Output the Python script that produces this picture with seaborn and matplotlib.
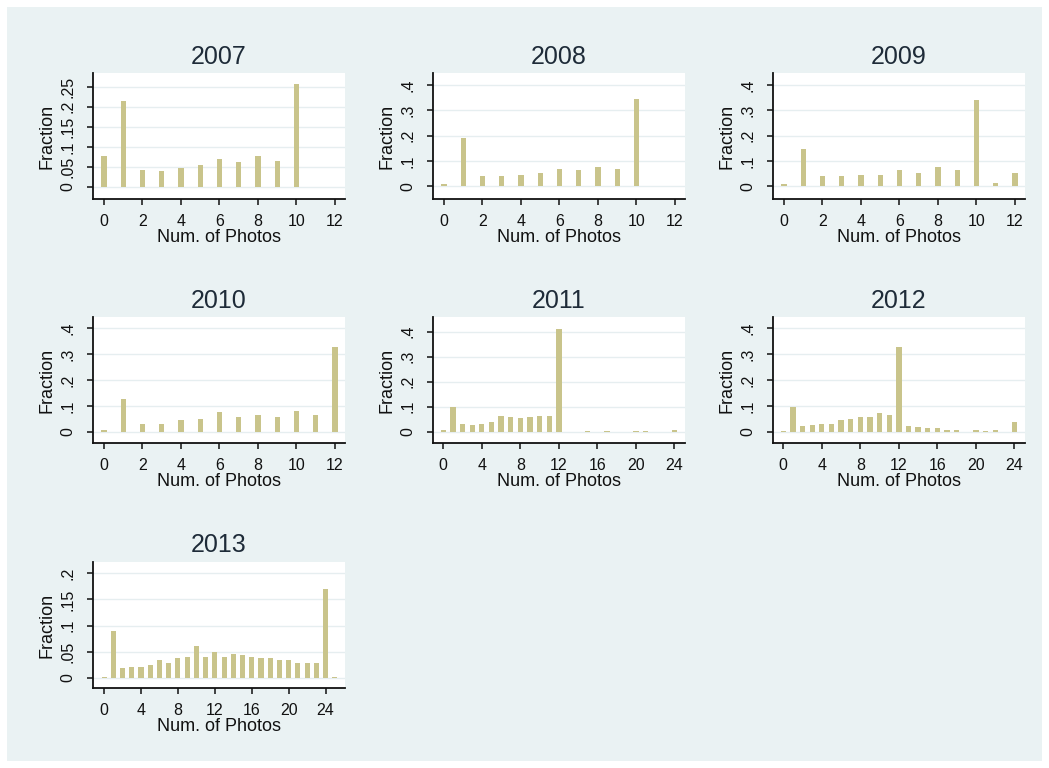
import matplotlib
matplotlib.use("Agg")
import matplotlib.pyplot as plt
from matplotlib.patches import Rectangle
from matplotlib.ticker import FixedLocator, FuncFormatter
import pandas as pd
import seaborn as sns

# Share of listings by number of photos, one histogram per year
photos_2007 = [0, 1, 2, 3, 4, 5, 6, 7, 8, 9, 10]
frac_2007 = [0.078, 0.213, 0.042, 0.040, 0.047, 0.054, 0.070, 0.062, 0.078, 0.065, 0.257]

photos_2008 = [0, 1, 2, 3, 4, 5, 6, 7, 8, 9, 10, 11, 12]
frac_2008 = [0.009, 0.190, 0.039, 0.039, 0.045, 0.051, 0.070, 0.065, 0.077, 0.070, 0.345, 0.002, 0.002]

photos_2009 = [0, 1, 2, 3, 4, 5, 6, 7, 8, 9, 10, 11, 12]
frac_2009 = [0.008, 0.146, 0.039, 0.039, 0.045, 0.045, 0.064, 0.051, 0.075, 0.064, 0.339, 0.013, 0.052]

photos_2010 = [0, 1, 2, 3, 4, 5, 6, 7, 8, 9, 10, 11, 12]
frac_2010 = [0.006, 0.127, 0.032, 0.032, 0.045, 0.051, 0.075, 0.058, 0.064, 0.058, 0.081, 0.064, 0.327]

photos_2011 = [0, 1, 2, 3, 4, 5, 6, 7, 8, 9, 10, 11, 12, 15, 17, 20, 21, 24]
frac_2011 = [0.005, 0.100, 0.032, 0.025, 0.032, 0.038, 0.064, 0.058, 0.055, 0.060, 0.063, 0.063,
             0.410, 0.004, 0.004, 0.004, 0.004, 0.005]

photos_2012 = [0, 1, 2, 3, 4, 5, 6, 7, 8, 9, 10, 11, 12, 13, 14, 15, 16, 17, 18, 20, 21, 22, 24]
frac_2012 = [0.005, 0.096, 0.022, 0.026, 0.031, 0.032, 0.045, 0.051, 0.056, 0.056, 0.073, 0.064,
             0.327, 0.022, 0.019, 0.013, 0.013, 0.006, 0.006, 0.008, 0.005, 0.006, 0.038]

photos_2013 = [0, 1, 2, 3, 4, 5, 6, 7, 8, 9, 10, 11, 12, 13, 14, 15, 16, 17, 18, 19, 20, 21, 22, 23, 24, 25]
frac_2013 = [0.002, 0.089, 0.018, 0.020, 0.021, 0.024, 0.034, 0.028, 0.037, 0.040, 0.061, 0.040, 0.050,
             0.039, 0.045, 0.043, 0.040, 0.037, 0.037, 0.034, 0.034, 0.028, 0.028, 0.028, 0.171, 0.002]

years = ["2007", "2008", "2009", "2010", "2011", "2012", "2013"]
photos = [photos_2007, photos_2008, photos_2009, photos_2010, photos_2011, photos_2012, photos_2013]
fractions = [frac_2007, frac_2008, frac_2009, frac_2010, frac_2011, frac_2012, frac_2013]

yticks = [
    [0, 0.05, 0.10, 0.15, 0.20, 0.25],
    [0, 0.1, 0.2, 0.3, 0.4],
    [0, 0.1, 0.2, 0.3, 0.4],
    [0, 0.1, 0.2, 0.3, 0.4],
    [0, 0.1, 0.2, 0.3, 0.4],
    [0, 0.1, 0.2, 0.3, 0.4],
    [0, 0.05, 0.10, 0.15, 0.20],
]
xticks_12 = [0, 2, 4, 6, 8, 10, 12]
xticks_24 = [0, 4, 8, 12, 16, 20, 24]

# axis extents for each panel
ylims = [(-0.030, 0.284), (-0.050, 0.447), (-0.050, 0.447), (-0.043, 0.443),
         (-0.045, 0.458), (-0.043, 0.443), (-0.020, 0.222)]
xlims = [(-0.57, 12.52), (-0.57, 12.52), (-0.57, 12.52), (-0.57, 12.52),
         (-1.07, 25.1), (-1.07, 25.1), (-1.2, 26.1)]

sns.set_style("ticks")
plt.rcParams["font.family"] = ["Liberation Sans", "DejaVu Sans"]

W, H = 1049, 768
fig = plt.figure(figsize=(W / 100, H / 100), dpi=100, facecolor="white")
fig.patches.append(Rectangle((7 / W, 7 / H), (W - 14) / W, (H - 14) / H,
                             transform=fig.transFigure, facecolor="#eaf2f3",
                             edgecolor="none", zorder=-10))

bar_color = "#c9c48b"
title_color = "#1e2b38"
col_left = [93, 433, 773]
row_top = [73, 317, 562]
ax_w, ax_h = 252, 126


def frac_label(v, _pos=None):
    if abs(v) < 1e-9:
        return "0"
    return f"{v:g}".lstrip("0")


for i, year in enumerate(years):
    r, c = divmod(i, 3)
    left, top = col_left[c], row_top[r]
    ax = fig.add_axes([left / W, 1 - (top + ax_h) / H, ax_w / W, ax_h / H])
    ax.set_facecolor("white")

    df = pd.DataFrame({"photos": photos[i], "fraction": fractions[i]})
    wide = max(photos[i]) > 12
    sns.barplot(data=df, x="photos", y="fraction", native_scale=True,
                width=0.55 if wide else 0.27, color=bar_color, saturation=1,
                errorbar=None, linewidth=0, ax=ax)

    ax.set_xlim(*xlims[i])
    ax.set_ylim(*ylims[i])
    ax.xaxis.set_major_locator(FixedLocator(xticks_24 if wide else xticks_12))
    ax.yaxis.set_major_locator(FixedLocator(yticks[i]))
    ax.yaxis.set_major_formatter(FuncFormatter(frac_label))
    ax.set_axisbelow(True)
    ax.yaxis.grid(True, color="#e6eef0", linewidth=1.0)
    ax.xaxis.grid(False)

    for side in ("top", "right"):
        ax.spines[side].set_visible(False)
    for side in ("left", "bottom"):
        ax.spines[side].set_color("#111111")
        ax.spines[side].set_linewidth(1.3)

    ax.tick_params(axis="both", direction="out", length=4.5, width=1.1,
                   color="#111111", labelcolor="#111111", labelsize=11.5)
    ax.tick_params(axis="x", pad=6)
    ax.tick_params(axis="y", pad=8)
    for lab in ax.get_yticklabels():
        lab.set_rotation(90)
        lab.set_va("center")

    ax.set_xlabel("Num. of Photos", fontsize=13, color="#111111", labelpad=0)
    ax.set_ylabel("Fraction", fontsize=13, color="#111111", labelpad=4)
    ax.text(0.5, 1 + 16.5 / ax_h, year, transform=ax.transAxes, ha="center",
            va="center", fontsize=18, color=title_color)

fig.savefig("out.png", dpi=100, facecolor=fig.get_facecolor())
